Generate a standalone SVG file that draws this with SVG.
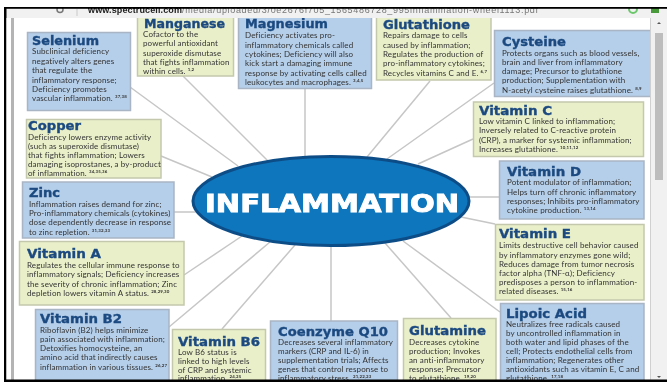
<svg xmlns="http://www.w3.org/2000/svg" width="667" height="382" viewBox="0 0 667 382">
<style>
.b{fill:#b5cee9;stroke:#a9b5c4;stroke-width:1.5}
.y{fill:#e9efc9;stroke:#c4c9ad;stroke-width:1.5}
.t{font-family:"DejaVu Sans",sans-serif;font-weight:bold;font-size:12px;fill:#1b4a80;stroke:#1b4a80;stroke-width:.35px}
.x{font-family:"Lato","Open Sans",sans-serif;font-size:8px;fill:#333;letter-spacing:.12px}
.s{font-size:4.4px;font-weight:bold}
#connectors line{stroke:#c6c6c6;stroke-width:1.5}
</style>
<defs><filter id="soft" x="0" y="0" width="100%" height="100%"><feGaussianBlur stdDeviation="0.3"/></filter></defs>
<rect width="667" height="382" fill="#fff"/>
<g filter="url(#soft)">
<g id="connectors">
<line x1="130" y1="87" x2="238" y2="166"/>
<line x1="183" y1="76" x2="268" y2="161"/>
<line x1="305" y1="89" x2="305" y2="157"/>
<line x1="430" y1="81" x2="367" y2="157"/>
<line x1="494" y1="83" x2="387" y2="159"/>
<line x1="473" y1="139" x2="418" y2="164"/>
<line x1="499" y1="197" x2="468" y2="197"/>
<line x1="495" y1="224" x2="461" y2="217"/>
<line x1="500" y1="312" x2="403" y2="241"/>
<line x1="451" y1="318" x2="385" y2="243"/>
<line x1="331" y1="321" x2="331" y2="246"/>
<line x1="222" y1="329" x2="295" y2="245"/>
<line x1="169" y1="327" x2="270" y2="242"/>
<line x1="184" y1="275" x2="242" y2="236"/>
<line x1="174" y1="212" x2="197" y2="212"/>
<line x1="161" y1="156" x2="212" y2="177"/>
</g>
<g id="selenium"><rect class="b" x="27.500" y="32.500" width="103" height="78"/>
<text class="t" x="32" y="44.500" textLength="67" lengthAdjust="spacingAndGlyphs">Selenium</text>
<text class="x" x="32" y="54">Subclinical deficiency</text><text class="x" x="32" y="63.500">negatively alters genes</text><text class="x" x="32" y="73">that regulate the</text><text class="x" x="32" y="82.500">inflammatory response;</text><text class="x" x="32" y="91.500">Deficiency promotes</text><text class="x" x="32" y="100.500">vascular inflammation. <tspan class="s" dy="-3">37,38</tspan></text></g>
<g id="manganese"><rect class="y" x="137.500" y="10" width="96" height="66"/>
<text class="t" x="144" y="27.500" textLength="81" lengthAdjust="spacingAndGlyphs">Manganese</text>
<text class="x" x="143" y="37">Cofactor to the</text><text class="x" x="143" y="46">powerful antioxidant</text><text class="x" x="143" y="55.500">superoxide dismutase</text><text class="x" x="143" y="64.500">that fights inflammation</text><text class="x" x="143" y="73.500">within cells. <tspan class="s" dy="-3">1,2</tspan></text></g>
<g id="magnesium"><rect class="b" x="238.500" y="10" width="133" height="78.500"/>
<text class="t" x="245" y="28" textLength="83" lengthAdjust="spacingAndGlyphs">Magnesium</text>
<text class="x" x="245" y="38">Deficiency activates pro-</text><text class="x" x="245" y="47.500">inflammatory chemicals called</text><text class="x" x="245" y="57">cytokines; Deficiency will also</text><text class="x" x="245" y="66">kick start a damaging immune</text><text class="x" x="245" y="75.500">response by activating cells called</text><text class="x" x="245" y="85">leukocytes and macrophages. <tspan class="s" dy="-3">3,4,5</tspan></text></g>
<g id="glutathione"><rect class="y" x="376.500" y="10" width="114.500" height="70"/>
<text class="t" x="383" y="28.500" textLength="87" lengthAdjust="spacingAndGlyphs">Glutathione</text>
<text class="x" x="383" y="38">Repairs damage to cells</text><text class="x" x="383" y="47.500">caused by inflammation;</text><text class="x" x="383" y="57">Regulates the production of</text><text class="x" x="383" y="66">pro-inflammatory cytokines;</text><text class="x" x="383" y="75.500">Recycles vitamins C and E. <tspan class="s" dy="-3">6,7</tspan></text></g>
<g id="cysteine"><rect class="b" x="494.500" y="30.500" width="158" height="66"/>
<text class="t" x="502" y="46" textLength="64" lengthAdjust="spacingAndGlyphs">Cysteine</text>
<text class="x" x="502" y="55.500">Protects organs such as blood vessels,</text><text class="x" x="502" y="64.500">brain and liver from inflammatory</text><text class="x" x="502" y="74">damage; Precursor to glutathione</text><text class="x" x="502" y="83">production; Supplementation with</text><text class="x" x="502" y="92.500">N-acetyl cysteine raises glutathione. <tspan class="s" dy="-3">8,9</tspan></text></g>
<g id="vitamin-c"><rect class="y" x="473.500" y="102" width="170" height="54.500"/>
<text class="t" x="479" y="114.500" textLength="73" lengthAdjust="spacingAndGlyphs">Vitamin C</text>
<text class="x" x="479" y="124">Low vitamin C linked to inflammation;</text><text class="x" x="479" y="133">Inversely related to C-reactive protein</text><text class="x" x="479" y="142.500">(CRP), a marker for systemic inflammation;</text><text class="x" x="479" y="152">Increases glutathione. <tspan class="s" dy="-3">10,11,12</tspan></text></g>
<g id="vitamin-d"><rect class="b" x="499.500" y="161" width="144.500" height="58"/>
<text class="t" x="507" y="175.500" textLength="74" lengthAdjust="spacingAndGlyphs">Vitamin D</text>
<text class="x" x="507" y="185">Potent modulator of inflammation;</text><text class="x" x="507" y="194.500">Helps turn off chronic inflammatory</text><text class="x" x="507" y="203.500">responses; Inhibits pro-inflammatory</text><text class="x" x="507" y="213">cytokine production. <tspan class="s" dy="-3">13,14</tspan></text></g>
<g id="vitamin-e"><rect class="y" x="495.500" y="224.500" width="148.500" height="75.500"/>
<text class="t" x="499" y="238" textLength="72" lengthAdjust="spacingAndGlyphs">Vitamin E</text>
<text class="x" x="499" y="248">Limits destructive cell behavior caused</text><text class="x" x="499" y="257.500">by inflammatory enzymes gone wild;</text><text class="x" x="499" y="266.500">Reduces damage from tumor necrosis</text><text class="x" x="499" y="275.500">factor alpha (TNF-α); Deficiency</text><text class="x" x="499" y="285">predisposes a person to inflammation-</text><text class="x" x="499" y="294">related diseases. <tspan class="s" dy="-3">15,16</tspan></text></g>
<g id="lipoic-acid"><rect class="b" x="500.500" y="303.500" width="143.500" height="85"/>
<text class="t" x="506" y="318" textLength="81" lengthAdjust="spacingAndGlyphs">Lipoic Acid</text>
<text class="x" x="506" y="327">Neutralizes free radicals caused</text><text class="x" x="506" y="336">by uncontrolled inflammation in</text><text class="x" x="506" y="345">both water and lipid phases of the</text><text class="x" x="506" y="354">cell; Protects endothelial cells from</text><text class="x" x="506" y="363">inflammation; Regenerates other</text><text class="x" x="506" y="372">antioxidants such as vitamin E, C and</text><text class="x" x="506" y="381">glutathione. <tspan class="s" dy="-3">17,18</tspan></text></g>
<g id="glutamine"><rect class="y" x="403.500" y="318.500" width="92.500" height="70"/>
<text class="t" x="409" y="335" textLength="77" lengthAdjust="spacingAndGlyphs">Glutamine</text>
<text class="x" x="409" y="344.500">Decreases cytokine</text><text class="x" x="409" y="353.500">production; Invokes</text><text class="x" x="409" y="362.500">an anti-inflammatory</text><text class="x" x="409" y="371.500">response; Precursor</text><text class="x" x="409" y="380.500">to glutathione. <tspan class="s" dy="-3">19,20</tspan></text></g>
<g id="coenzyme-q10"><rect class="b" x="270.500" y="321" width="127" height="67"/>
<text class="t" x="278" y="335.500" textLength="110" lengthAdjust="spacingAndGlyphs">Coenzyme Q10</text>
<text class="x" x="278" y="344.500">Decreases several inflammatory</text><text class="x" x="278" y="353.500">markers (CRP and IL-6) in</text><text class="x" x="278" y="362.500">supplementation trials; Affects</text><text class="x" x="278" y="371.500">genes that control response to</text><text class="x" x="278" y="380.500">inflammatory stress. <tspan class="s" dy="-3">21,22,23</tspan></text></g>
<g id="vitamin-b6"><rect class="y" x="172.500" y="329.500" width="93" height="60"/>
<text class="t" x="178" y="346" textLength="82" lengthAdjust="spacingAndGlyphs">Vitamin B6</text>
<text class="x" x="178" y="354.500">Low B6 status is</text><text class="x" x="178" y="363.500">linked to high levels</text><text class="x" x="178" y="372.500">of CRP and systemic</text><text class="x" x="178" y="381">inflammation. <tspan class="s" dy="-3">24,25</tspan></text></g>
<g id="vitamin-b2"><rect class="b" x="35.500" y="309.500" width="133.500" height="80"/>
<text class="t" x="40" y="322.500" textLength="82" lengthAdjust="spacingAndGlyphs">Vitamin B2</text>
<text class="x" x="40" y="332.500">Riboflavin (B2) helps minimize</text><text class="x" x="40" y="341.500">pain associated with inflammation;</text><text class="x" x="40" y="350.500">Detoxifies homocysteine, an</text><text class="x" x="40" y="360">amino acid that indirectly causes</text><text class="x" x="40" y="369.500">inflammation in various tissues. <tspan class="s" dy="-3">26,27</tspan></text></g>
<g id="vitamin-a"><rect class="y" x="19.500" y="241.500" width="164.500" height="63.500"/>
<text class="t" x="27" y="258" textLength="74" lengthAdjust="spacingAndGlyphs">Vitamin A</text>
<text class="x" x="27" y="267.500">Regulates the cellular immune response to</text><text class="x" x="27" y="277">inflammatory signals; Deficiency increases</text><text class="x" x="27" y="286.500">the severity of chronic inflammation; Zinc</text><text class="x" x="27" y="295.500">depletion lowers vitamin A status. <tspan class="s" dy="-3">28,29,30</tspan></text></g>
<g id="zinc"><rect class="b" x="22.500" y="182" width="151.500" height="56"/>
<text class="t" x="29" y="197" textLength="31" lengthAdjust="spacingAndGlyphs">Zinc</text>
<text class="x" x="29" y="206.500">Inflammation raises demand for zinc;</text><text class="x" x="29" y="216">Pro-inflammatory chemicals (cytokines)</text><text class="x" x="29" y="225">dose dependently decrease in response</text><text class="x" x="29" y="234.500">to zinc repletion. <tspan class="s" dy="-3">31,32,33</tspan></text></g>
<g id="copper"><rect class="y" x="26.500" y="119.500" width="134.500" height="58.500"/>
<text class="t" x="28" y="129.500" textLength="53" lengthAdjust="spacingAndGlyphs">Copper</text>
<text class="x" x="28" y="139.500">Deficiency lowers enzyme activity</text><text class="x" x="28" y="148.500">(such as superoxide dismutase)</text><text class="x" x="28" y="157.500">that fights inflammation; Lowers</text><text class="x" x="28" y="167">damaging isoprostanes, a by-product</text><text class="x" x="28" y="176">of inflammation. <tspan class="s" dy="-3">34,35,36</tspan></text></g>
<g id="inflammation">
<ellipse cx="331" cy="201" rx="138" ry="44.500" fill="#0d76bd" stroke="#0f4d87" stroke-width="3"/>
<text x="205" y="212" textLength="254" lengthAdjust="spacingAndGlyphs" font-family="'DejaVu Sans',sans-serif" font-weight="bold" font-size="24.500" fill="#fff" stroke="#fff" stroke-width=".9">INFLAMMATION</text>
</g>
<g id="frame">
<rect x="6" y="9" width="661" height="9" fill="#f1f1f1"/>
<text y="12.500" font-family="'Liberation Sans',sans-serif" font-size="9" fill="#222"><tspan x="88" font-weight="bold" textLength="94">www.spectrucell.com</tspan><tspan x="182" fill="#777" textLength="356">/media/uploaded/3/0e2676f705_1565486728_995inflammation-wheel1113.pdf</tspan></text>
<rect x="76" y="9" width="2" height="7" fill="#ddd"/>
<circle cx="60" cy="9.500" r="3" fill="none" stroke="#777" stroke-width="1.500"/>
<circle cx="633" cy="9" r="4" fill="none" stroke="#6cc76c" stroke-width="2"/>
<rect x="651" y="6" width="8" height="7" fill="#4a9a3a"/>
<rect x="0" y="0" width="667" height="7" fill="#fff"/>
<rect x="4" y="7" width="663" height="1.800" fill="#000"/>
<rect x="0" y="8" width="4" height="374" fill="#fff"/>
<rect x="4" y="7" width="2.500" height="373" fill="#000"/>
<rect x="6.500" y="18" width="4.500" height="362" fill="#fff"/>
<rect x="11" y="18" width="3" height="362" fill="#b4b4b4"/>
<rect x="650" y="18" width="17" height="362" fill="#f1f1f1"/>
<rect x="650" y="18" width="1" height="362" fill="#d0d0d0"/>
<rect x="655" y="33" width="8" height="147" fill="#bdbdbd"/>
<path d="M657 24l2-2 2 2z M657 376l2 2 2-2z" fill="#555"/>
<rect x="4" y="379.500" width="663" height="2.500" fill="#000"/>
</g>
</g>
</svg>
